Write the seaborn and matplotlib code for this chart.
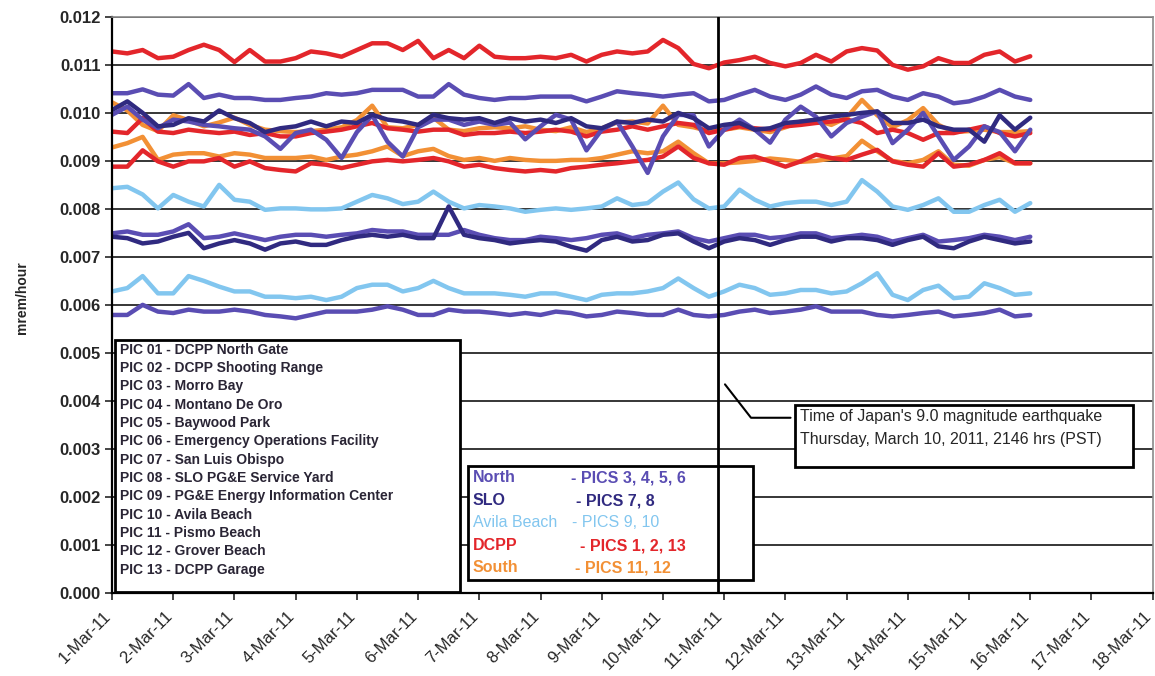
import pandas as pd
import matplotlib
matplotlib.use('Agg')
import matplotlib.pyplot as plt
import matplotlib.dates as mdates
import matplotlib.transforms as mtransforms
from matplotlib.patches import Rectangle
from matplotlib.lines import Line2D
from matplotlib.ticker import MultipleLocator, FormatStrFormatter
import seaborn as sns

# sampling grid of the readings (every 6 hours, 1-Mar to 16-Mar 2011)
times = pd.date_range('2011-03-01', '2011-03-16', freq='6h')

# readings, in units of 0.001 mrem/hour
pic01 = [11.28, 11.24, 11.31, 11.14, 11.17, 11.31, 11.42, 11.31, 11.06, 11.31, 11.07, 11.07, 11.14, 11.28, 11.24, 11.17, 11.31, 11.45, 11.45, 11.31, 11.50,
         11.14, 11.31, 11.14, 11.40, 11.17, 11.14, 11.14, 11.17, 11.14, 11.21, 11.07, 11.21, 11.28, 11.24, 11.28, 11.52, 11.35, 11.02, 10.93, 11.05,
         11.10, 11.17, 11.04, 10.97, 11.04, 11.21, 11.07, 11.28, 11.35, 11.30, 11.00, 10.90, 10.97, 11.14, 11.04, 11.04, 11.21, 11.28, 11.07, 11.18]
pic02 = [9.61, 9.58, 9.89, 9.61, 9.58, 9.65, 9.61, 9.58, 9.61, 9.54, 9.58, 9.51, 9.51, 9.58, 9.61, 9.65, 9.72, 9.79, 9.68, 9.65, 9.61,
         9.65, 9.65, 9.54, 9.58, 9.58, 9.61, 9.58, 9.61, 9.65, 9.61, 9.51, 9.61, 9.65, 9.72, 9.65, 9.72, 9.79, 9.75, 9.58, 9.65,
         9.72, 9.68, 9.65, 9.72, 9.75, 9.79, 9.82, 9.86, 9.79, 9.58, 9.65, 9.58, 9.44, 9.58, 9.58, 9.65, 9.72, 9.58, 9.51, 9.58]
pic13 = [8.88, 8.88, 9.22, 8.99, 8.88, 8.99, 8.99, 9.06, 8.88, 8.99, 8.85, 8.81, 8.78, 8.95, 8.92, 8.85, 8.92, 8.99, 9.02, 8.99, 9.02,
         9.06, 8.99, 8.88, 8.92, 8.85, 8.81, 8.78, 8.81, 8.78, 8.85, 8.88, 8.92, 8.95, 8.99, 9.02, 9.09, 9.30, 9.06, 8.95, 8.92,
         9.06, 9.09, 8.99, 8.88, 8.99, 9.13, 9.06, 9.02, 9.13, 9.23, 8.99, 8.92, 8.88, 9.16, 8.88, 8.92, 9.02, 9.16, 8.95, 8.95]
pic11 = [10.22, 10.05, 9.75, 9.62, 9.95, 9.85, 9.72, 9.80, 9.90, 9.75, 9.65, 9.62, 9.60, 9.62, 9.65, 9.70, 9.85, 10.15, 9.70, 9.68, 9.75,
         9.90, 9.65, 9.62, 9.68, 9.70, 9.68, 9.72, 9.65, 9.62, 9.70, 9.60, 9.68, 9.80, 9.82, 9.78, 10.15, 9.75, 9.70, 9.62, 9.65,
         9.70, 9.65, 9.60, 9.70, 9.82, 9.85, 9.75, 9.90, 10.27, 9.95, 9.70, 9.85, 10.10, 9.75, 9.60, 9.62, 9.65, 9.60, 9.60, 9.62]
pic12 = [9.28, 9.37, 9.50, 9.02, 9.13, 9.16, 9.16, 9.09, 9.16, 9.13, 9.06, 9.06, 9.06, 9.09, 9.02, 9.09, 9.13, 9.20, 9.30, 9.10, 9.20,
         9.25, 9.10, 9.02, 9.06, 9.00, 9.06, 9.02, 9.00, 9.00, 9.02, 9.02, 9.06, 9.13, 9.20, 9.16, 9.20, 9.40, 9.16, 8.95, 8.95,
         8.97, 9.00, 9.05, 9.02, 8.98, 9.00, 9.05, 9.10, 9.42, 9.20, 9.00, 8.95, 9.02, 9.20, 8.92, 8.90, 9.02, 9.08, 8.95, 8.95]
pic03 = [10.41, 10.41, 10.49, 10.38, 10.36, 10.60, 10.31, 10.38, 10.31, 10.31, 10.27, 10.27, 10.31, 10.34, 10.41, 10.38, 10.41, 10.48, 10.48, 10.48, 10.34,
         10.34, 10.60, 10.38, 10.31, 10.27, 10.31, 10.31, 10.34, 10.34, 10.34, 10.24, 10.34, 10.45, 10.41, 10.38, 10.34, 10.38, 10.41, 10.24, 10.27,
         10.38, 10.48, 10.34, 10.27, 10.38, 10.55, 10.38, 10.31, 10.45, 10.48, 10.34, 10.27, 10.41, 10.34, 10.20, 10.24, 10.34, 10.48, 10.34, 10.27]
pic04 = [9.96, 10.13, 9.86, 9.68, 9.86, 9.82, 9.75, 9.72, 9.68, 9.65, 9.51, 9.25, 9.58, 9.65, 9.44, 9.06, 9.60, 9.95, 9.40, 9.09, 9.70,
         9.86, 9.86, 9.75, 9.82, 9.75, 9.80, 9.45, 9.72, 9.96, 9.86, 9.22, 9.65, 9.82, 9.30, 8.75, 9.51, 9.96, 9.95, 9.30, 9.65,
         9.86, 9.65, 9.38, 9.86, 10.13, 9.92, 9.51, 9.79, 9.92, 10.03, 9.37, 9.65, 10.00, 9.51, 9.02, 9.30, 9.72, 9.60, 9.20, 9.65]
pic05 = [7.49, 7.53, 7.46, 7.46, 7.53, 7.68, 7.39, 7.42, 7.49, 7.42, 7.35, 7.42, 7.46, 7.46, 7.42, 7.46, 7.49, 7.56, 7.53, 7.53, 7.46,
         7.46, 7.46, 7.56, 7.46, 7.39, 7.35, 7.35, 7.42, 7.39, 7.35, 7.39, 7.46, 7.49, 7.39, 7.46, 7.49, 7.53, 7.39, 7.32, 7.39,
         7.46, 7.46, 7.39, 7.42, 7.49, 7.49, 7.39, 7.42, 7.46, 7.42, 7.32, 7.39, 7.46, 7.32, 7.35, 7.39, 7.46, 7.42, 7.35, 7.42]
pic06 = [5.79, 5.79, 6.00, 5.86, 5.83, 5.90, 5.86, 5.86, 5.90, 5.86, 5.79, 5.76, 5.72, 5.79, 5.86, 5.86, 5.86, 5.90, 5.97, 5.90, 5.79,
         5.79, 5.90, 5.86, 5.86, 5.83, 5.79, 5.83, 5.79, 5.86, 5.83, 5.76, 5.79, 5.86, 5.83, 5.79, 5.79, 5.90, 5.79, 5.76, 5.79,
         5.86, 5.90, 5.83, 5.86, 5.90, 5.97, 5.86, 5.86, 5.86, 5.79, 5.76, 5.79, 5.83, 5.86, 5.76, 5.79, 5.83, 5.90, 5.76, 5.79]
pic07 = [10.06, 10.24, 10.00, 9.72, 9.75, 9.89, 9.82, 10.05, 9.89, 9.79, 9.60, 9.68, 9.72, 9.82, 9.72, 9.82, 9.79, 9.96, 9.86, 9.82, 9.75,
         9.96, 9.89, 9.86, 9.89, 9.79, 9.89, 9.82, 9.86, 9.79, 9.89, 9.72, 9.68, 9.82, 9.79, 9.86, 9.82, 10.00, 9.89, 9.68, 9.75,
         9.79, 9.65, 9.68, 9.79, 9.82, 9.86, 9.92, 9.96, 10.00, 10.03, 9.79, 9.79, 9.86, 9.72, 9.65, 9.65, 9.40, 9.95, 9.65, 9.90]
pic08 = [7.42, 7.39, 7.28, 7.32, 7.42, 7.50, 7.18, 7.28, 7.35, 7.28, 7.15, 7.28, 7.32, 7.25, 7.25, 7.35, 7.42, 7.46, 7.42, 7.46, 7.39,
         7.39, 8.05, 7.46, 7.39, 7.35, 7.28, 7.32, 7.35, 7.32, 7.21, 7.13, 7.35, 7.42, 7.32, 7.35, 7.46, 7.49, 7.32, 7.18, 7.32,
         7.39, 7.35, 7.25, 7.35, 7.42, 7.42, 7.32, 7.39, 7.39, 7.35, 7.25, 7.35, 7.42, 7.22, 7.18, 7.32, 7.42, 7.35, 7.28, 7.32]
pic09 = [8.43, 8.46, 8.30, 8.01, 8.29, 8.15, 8.05, 8.50, 8.19, 8.15, 7.98, 8.01, 8.01, 7.99, 7.99, 8.01, 8.15, 8.29, 8.22, 8.10, 8.15,
         8.36, 8.15, 8.01, 8.08, 8.05, 8.01, 7.94, 7.98, 8.01, 7.98, 8.01, 8.05, 8.22, 8.08, 8.12, 8.36, 8.55, 8.20, 8.01, 8.05,
         8.40, 8.19, 8.05, 8.12, 8.15, 8.15, 8.08, 8.15, 8.60, 8.36, 8.05, 7.98, 8.08, 8.22, 7.94, 7.94, 8.08, 8.19, 7.94, 8.12]
pic10 = [6.28, 6.35, 6.60, 6.24, 6.24, 6.60, 6.50, 6.38, 6.28, 6.28, 6.17, 6.17, 6.14, 6.17, 6.10, 6.17, 6.35, 6.42, 6.42, 6.28, 6.35,
         6.50, 6.35, 6.24, 6.24, 6.24, 6.21, 6.17, 6.24, 6.24, 6.17, 6.10, 6.21, 6.24, 6.24, 6.28, 6.35, 6.55, 6.35, 6.17, 6.28,
         6.42, 6.35, 6.21, 6.24, 6.31, 6.31, 6.24, 6.28, 6.45, 6.66, 6.21, 6.10, 6.31, 6.40, 6.14, 6.17, 6.45, 6.35, 6.21, 6.24]

station_names = ['PIC 01 - DCPP North Gate', 'PIC 02 - DCPP Shooting Range', 'PIC 03 - Morro Bay',
                 'PIC 04 - Montano De Oro', 'PIC 05 - Baywood Park', 'PIC 06 - Emergency Operations Facility',
                 'PIC 07 - San Luis Obispo', 'PIC 08 - SLO PG&E Service Yard',
                 'PIC 09 - PG&E Energy Information Center', 'PIC 10 - Avila Beach',
                 'PIC 11 - Pismo Beach', 'PIC 12 - Grover Beach', 'PIC 13 - DCPP Garage']

groups = ['North', 'SLO', 'Avila Beach', 'DCPP', 'South']
group_pics = ['- PICS 3, 4, 5, 6', '- PICS 7, 8', '- PICS 9, 10', '- PICS 1, 2, 13', '- PICS 11, 12']
group_colors = {'North': '#5a4db3', 'SLO': '#302a80', 'Avila Beach': '#82c6ef',
                'DCPP': '#e3262b', 'South': '#f29035'}

# station -> (readings, group); listed in drawing order
series = {
    'PIC 11': (pic11, 'South'), 'PIC 12': (pic12, 'South'),
    'PIC 01': (pic01, 'DCPP'), 'PIC 02': (pic02, 'DCPP'), 'PIC 13': (pic13, 'DCPP'),
    'PIC 09': (pic09, 'Avila Beach'), 'PIC 10': (pic10, 'Avila Beach'),
    'PIC 03': (pic03, 'North'), 'PIC 04': (pic04, 'North'), 'PIC 05': (pic05, 'North'), 'PIC 06': (pic06, 'North'),
    'PIC 08': (pic08, 'SLO'), 'PIC 07': (pic07, 'SLO'),
}

frames = []
for pic, (vals, grp) in series.items():
    frames.append(pd.DataFrame({'time': times, 'rate': [v * 0.001 for v in vals], 'station': pic}))
df = pd.concat(frames, ignore_index=True)
palette = {pic: group_colors[grp] for pic, (vals, grp) in series.items()}

sns.set_style('white')
plt.rcParams['font.family'] = ['Liberation Sans', 'DejaVu Sans']

fig = plt.figure(figsize=(11.55, 6.76), dpi=100)
ax = fig.add_axes([0.097, 0.123, 0.901, 0.852])

sns.lineplot(data=df, x='time', y='rate', hue='station', hue_order=list(series.keys()),
             palette=palette, estimator=None, linewidth=3.2, legend=False, ax=ax)

quake = pd.Timestamp('2011-03-10 21:46')
ax.axvline(quake, color='black', lw=2.0, zorder=6)

ax.set_xlim(pd.Timestamp('2011-03-01'), pd.Timestamp('2011-03-18'))
ax.set_ylim(0, 0.012)
ax.yaxis.set_major_locator(MultipleLocator(0.001))
ax.yaxis.set_major_formatter(FormatStrFormatter('%.3f'))
ax.xaxis.set_major_locator(mdates.DayLocator())
ax.xaxis.set_major_formatter(mdates.DateFormatter('%-d-%b-%y'))

ax.grid(axis='y', color='black', lw=1.1)
ax.grid(axis='x', visible=False)
ax.set_axisbelow(True)

ax.tick_params(axis='y', direction='out', length=5, width=1.2, labelsize=12, pad=3, left=True)
ax.tick_params(axis='x', direction='out', length=5, width=1.2, labelsize=12, pad=6, bottom=True)
for lab in ax.get_yticklabels():
    lab.set_fontweight('bold')
# date labels sit a little left of their ticks, as in the original
shift = mtransforms.ScaledTranslation(-0.09, 0, fig.dpi_scale_trans)
for lab in ax.get_xticklabels():
    lab.set_rotation(45)
    lab.set_ha('right')
    lab.set_va('top')
    lab.set_rotation_mode('anchor')
    lab.set_transform(lab.get_transform() + shift)

for side in ['left', 'bottom']:
    ax.spines[side].set_color('black')
    ax.spines[side].set_linewidth(1.6)
for side in ['top', 'right']:
    ax.spines[side].set_color('#8a8a8a')
    ax.spines[side].set_linewidth(1.2)

ax.set_xlabel('')
ax.set_ylabel('mrem/hour', fontsize=10, fontweight='bold')
ax.yaxis.set_label_coords(-0.080, 0.512)

# station list box
ax.add_patch(Rectangle((0.003, 0.0015), 0.3315, 0.4375, transform=ax.transAxes,
                       facecolor='white', edgecolor='black', lw=2.0, zorder=4))
for i, name in enumerate(station_names):
    ax.text(0.0075, 0.4219 - i * 0.0318, name, transform=ax.transAxes, fontsize=10,
            fontweight='bold', color='#2a2535', va='center', ha='left', zorder=7)

# region colour key
ax.add_patch(Rectangle((0.342, 0.0226), 0.2735, 0.198, transform=ax.transAxes,
                       facecolor='white', edgecolor='black', lw=2.0, zorder=4))
key_y = [0.1997, 0.1600, 0.1215, 0.0821, 0.0434]
key_x = [0.4410, 0.4460, 0.4420, 0.4495, 0.4450]
for grp, pics, y, x2 in zip(groups, group_pics, key_y, key_x):
    weight = 'normal' if grp == 'Avila Beach' else 'bold'
    ax.text(0.3465, y, grp, transform=ax.transAxes, fontsize=11.5, fontweight=weight,
            color=group_colors[grp], va='center', ha='left', zorder=7)
    ax.text(x2, y, pics, transform=ax.transAxes, fontsize=11.5, fontweight=weight,
            color=group_colors[grp], va='center', ha='left', zorder=7)

# earthquake note
ax.add_line(Line2D([0.589, 0.614, 0.652], [0.362, 0.304, 0.304], transform=ax.transAxes,
                   color='black', lw=1.5, zorder=7))
ax.add_patch(Rectangle((0.656, 0.219), 0.325, 0.107, transform=ax.transAxes,
                       facecolor='white', edgecolor='black', lw=2.0, zorder=4))
ax.text(0.661, 0.3056, "Time of Japan's 9.0 magnitude earthquake", transform=ax.transAxes,
        fontsize=11.5, va='center', ha='left', zorder=7)
ax.text(0.661, 0.2656, 'Thursday, March 10, 2011, 2146 hrs (PST)', transform=ax.transAxes,
        fontsize=11.5, va='center', ha='left', zorder=7)

fig.savefig('out.png', dpi=100)
